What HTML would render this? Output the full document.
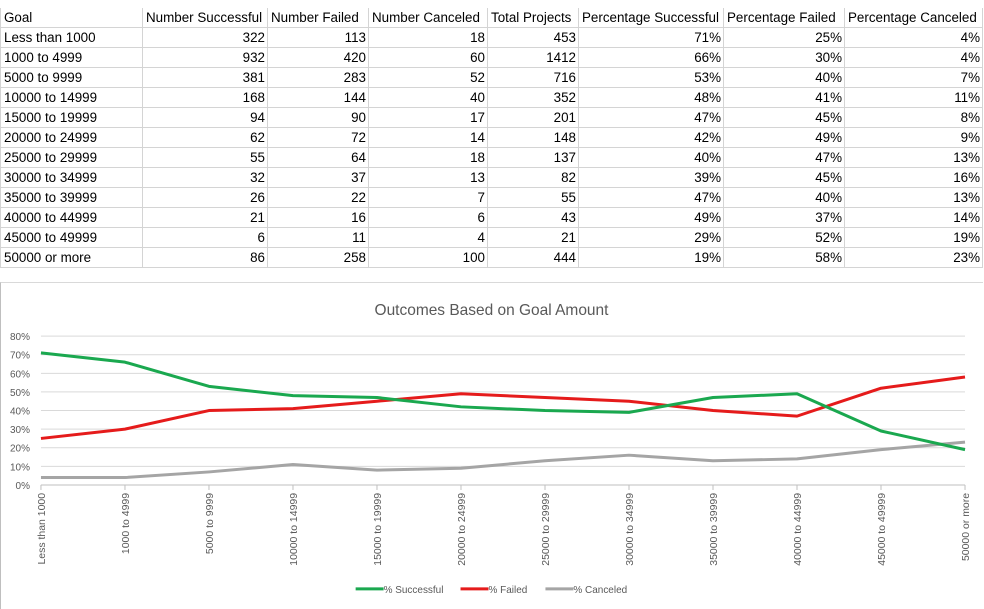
<!DOCTYPE html>
<html><head><meta charset="utf-8"><style>
body{margin:0;width:984px;height:608px;background:#fff;font-family:"Liberation Sans",sans-serif;overflow:hidden;position:relative}
table{position:absolute;left:0;top:8px;border-collapse:collapse;table-layout:fixed;width:982px;font-size:13.4px;color:#000}
td{height:19px;padding:0 2px 0 3px;border:1px solid #d4d4d4;white-space:nowrap;line-height:19px;overflow:hidden}
td.n{text-align:right}
tr.h td{border-top:none}
#chart{position:absolute;left:0;top:282px;width:982px;height:326px;border-left:1px solid #bfbfbf;border-top:1px solid #d9d9d9}
</style></head><body>
<table id="tbl">
<colgroup><col style="width:142px"><col style="width:125px"><col style="width:101px"><col style="width:119px"><col style="width:91px"><col style="width:145px"><col style="width:121px"><col style="width:138px"></colgroup>
<tr class="h"><td>Goal</td><td>Number Successful</td><td>Number Failed</td><td>Number Canceled</td><td>Total Projects</td><td>Percentage Successful</td><td>Percentage Failed</td><td>Percentage Canceled</td></tr>
</table>
<svg id="chart" width="983" height="326" viewBox="0 282 983 326" style="position:absolute;left:0;top:282px"></svg>
<script>
const goals=["Less than 1000","1000 to 4999","5000 to 9999","10000 to 14999","15000 to 19999","20000 to 24999","25000 to 29999","30000 to 34999","35000 to 39999","40000 to 44999","45000 to 49999","50000 or more"];
const numSuccess=[322,932,381,168,94,62,55,32,26,21,6,86];
const numFailed=[113,420,283,144,90,72,64,37,22,16,11,258];
const numCanceled=[18,60,52,40,17,14,18,13,7,6,4,100];
const totals=[453,1412,716,352,201,148,137,82,55,43,21,444];
const pctSuccess=[71,66,53,48,47,42,40,39,47,49,29,19];
const pctFailed=[25,30,40,41,45,49,47,45,40,37,52,58];
const pctCanceled=[4,4,7,11,8,9,13,16,13,14,19,23];
const yTicks=[0,10,20,30,40,50,60,70,80];

const tbl=document.getElementById('tbl');
goals.forEach((g,i)=>{
  const tr=document.createElement('tr');
  
  
  const cells=[g,numSuccess[i],numFailed[i],numCanceled[i],totals[i],pctSuccess[i]+'%',pctFailed[i]+'%',pctCanceled[i]+'%'];
  cells.forEach((c,j)=>{const td=document.createElement('td');td.textContent=c;if(j>0)td.className='n';tr.appendChild(td);});
  tbl.appendChild(tr);
});

const svg=document.getElementById('chart');
const NS='http://www.w3.org/2000/svg';
const x0=40,x1=965,yb=484,yt=335;
const xs=i=>x0+(x1-x0)*i/(goals.length-1);
const ys=v=>yb-(yb-yt)*v/80;
function mk(t,a,txt){const e=document.createElementNS(NS,t);for(const k in a)e.setAttribute(k,a[k]);if(txt!==undefined)e.textContent=txt;svg.appendChild(e);return e;}
const title=mk('text',{x:491,y:314,'text-anchor':'middle','font-size':'15.5',fill:'#595959'},'Outcomes Based on Goal Amount');


yTicks.forEach(v=>{
  const l=mk('line',{x1:x0,x2:x1,y1:ys(v),y2:ys(v),stroke:v===0?'#bfbfbf':'#d9d9d9','stroke-width':1});
  
  
  const t=mk('text',{x:29,y:ys(v)+4,'text-anchor':'end','font-size':'10',fill:'#595959'},v+'%');
  
  
});
goals.forEach((g,i)=>{
  mk('line',{x1:xs(i),x2:xs(i),y1:yb,y2:yb+5,stroke:'#bfbfbf'});
  const t=mk('text',{x:0,y:0,'text-anchor':'end','font-size':'10.5',fill:'#595959',transform:`translate(${xs(i)+4},${yb+8}) rotate(-90)`},g);
  
  
});
function series(vals,col,name){
  const p=mk('polyline',{points:vals.map((v,i)=>xs(i)+','+ys(v)).join(' '),fill:'none',stroke:col,'stroke-width':3,'stroke-linejoin':'round'});
  
  
}
series(pctCanceled,'#a5a5a5','line-canceled');
series(pctFailed,'#e51b1b','line-failed');
series(pctSuccess,'#1aa84f','line-successful');
const leg=[['% Successful','#1aa84f',355],['% Failed','#e51b1b',460],['% Canceled','#a5a5a5',545]];
leg.forEach(([n,c,x])=>{
  const l=mk('line',{x1:x,x2:x+28,y1:588,y2:588,stroke:c,'stroke-width':3});
  
  
  const t=mk('text',{x:x+28,y:592,'font-size':'10',fill:'#595959'},n);
  
  
});
</script>
</body></html>
